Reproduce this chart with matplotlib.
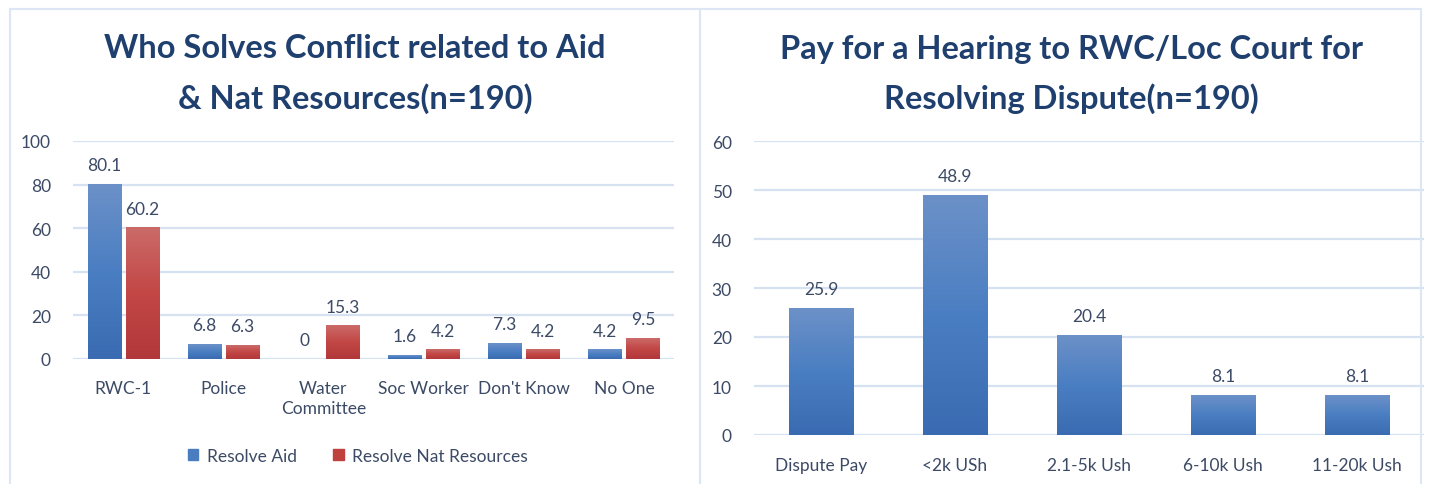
import matplotlib
matplotlib.use("Agg")
import matplotlib.pyplot as plt
import numpy as np
from matplotlib.colors import LinearSegmentedColormap
from matplotlib.patches import Rectangle

plt.rcParams['font.family'] = ['Lato', 'DejaVu Sans']

# ---- data ----
left_title = "Who Solves Conflict related to Aid\n& Nat Resources(n=190)"
left_categories = ["RWC-1", "Police", "Water\nCommittee", "Soc Worker", "Don't Know", "No One"]
resolve_aid = [80.1, 6.8, 0, 1.6, 7.3, 4.2]
resolve_nat = [60.2, 6.3, 15.3, 4.2, 4.2, 9.5]
left_series = ["Resolve Aid", "Resolve Nat Resources"]
left_yticks = [0, 20, 40, 60, 80, 100]

right_title = "Pay for a Hearing to RWC/Loc Court for\nResolving Dispute(n=190)"
right_categories = ["Dispute Pay", "<2k USh", "2.1-5k Ush", "6-10k Ush", "11-20k Ush"]
pay_values = [25.9, 48.9, 20.4, 8.1, 8.1]
right_yticks = [0, 10, 20, 30, 40, 50, 60]

# ---- styles ----
BLUE = "#4A7CC0"
RED = "#C0403E"
blue_cmap = LinearSegmentedColormap.from_list("b", ["#3A6BB2", "#4A7EC2", "#6C91C8"])
red_cmap = LinearSegmentedColormap.from_list("r", ["#B2373A", "#C24745", "#CB6B69"])
TITLE_C = "#1F3F6E"
TEXT_C = "#3C4A66"
GRID_C = "#D6E2F2"
BORDER_C = "#DCE6F4"
FS = 12.5
TFS = 23.5

W, H = 1442, 485
fig = plt.figure(figsize=(W / 100, H / 100), dpi=100)

# panel borders
fig.patches.append(Rectangle((10 / W, -0.1), (700 - 10) / W, 1.1 - 10 / H, transform=fig.transFigure,
                             fill=False, edgecolor=BORDER_C, linewidth=1.5))
fig.patches.append(Rectangle((700 / W, -0.1), 0.5, 1.1 - 10 / H, transform=fig.transFigure,
                             fill=False, edgecolor=BORDER_C, linewidth=1.5))


def gradient_bars(ax, bars, cmap):
    grad = np.linspace(0, 1, 256).reshape(-1, 1)
    for b in bars:
        x, y = b.get_x(), b.get_y()
        w, h = b.get_width(), b.get_height()
        if h <= 0:
            continue
        ax.imshow(grad, extent=[x, x + w, y, y + h], origin="lower", aspect="auto",
                  cmap=cmap, zorder=3)
        b.set_facecolor("none")


def style_axes(ax, yticks, pad_y):
    for s in ax.spines.values():
        s.set_visible(False)
    ax.set_yticks(yticks)
    ax.yaxis.grid(True, color=GRID_C, linewidth=1.6)
    ax.set_axisbelow(True)
    ax.tick_params(axis="both", length=0, labelsize=FS, labelcolor=TEXT_C)
    ax.tick_params(axis="y", pad=pad_y)


# ---- titles (centred on each panel) ----
fig.text(355 / W, 1 - 74 / H, left_title, ha="center", va="center", fontsize=TFS,
         fontweight="bold", color=TITLE_C, linespacing=1.75)
fig.text(1071 / W, 1 - 74 / H, right_title, ha="center", va="center", fontsize=TFS,
         fontweight="bold", color=TITLE_C, linespacing=1.75)

# ---- left chart ----
axL = fig.add_axes([73 / W, 1 - 360 / H, (674 - 73) / W, (360 - 142) / H])
x = np.arange(len(left_categories))
bw = 0.33
off = 0.19
b1 = axL.bar(x - off, resolve_aid, bw, color=BLUE, label=left_series[0], zorder=2)
b2 = axL.bar(x + off, resolve_nat, bw, color=RED, label=left_series[1], zorder=2)
gradient_bars(axL, b1, blue_cmap)
gradient_bars(axL, b2, red_cmap)
for bars, vals in ((b1, resolve_aid), (b2, resolve_nat)):
    for b, v in zip(bars, vals):
        axL.annotate(f"{v:g}", (b.get_x() + b.get_width() / 2, v), xytext=(0, 8),
                     textcoords="offset points", ha="center", va="bottom",
                     fontsize=FS, color=TEXT_C)
axL.set_xlim(-0.5, len(left_categories) - 0.5)
axL.set_ylim(0, 100)
axL.set_xticks(x)
axL.set_xticklabels(left_categories, linespacing=1.35)
style_axes(axL, left_yticks, 16)
axL.tick_params(axis="x", pad=15)
h1 = Rectangle((0, 0), 1, 1, color=BLUE)
h2 = Rectangle((0, 0), 1, 1, color=RED)
fig.legend([h1, h2], left_series, loc="center", bbox_to_anchor=(358 / W, 1 - 457 / H), ncol=2,
           frameon=False, fontsize=FS, labelcolor=TEXT_C, handlelength=0.6, handleheight=0.6,
           handletextpad=0.5, columnspacing=2.1)

# ---- right chart ----
axR = fig.add_axes([754 / W, 1 - 436 / H, (1424 - 754) / W, (436 - 142) / H])
xr = np.arange(len(right_categories))
b3 = axR.bar(xr, pay_values, 0.48, color=BLUE, zorder=2)
gradient_bars(axR, b3, blue_cmap)
for b, v in zip(b3, pay_values):
    axR.annotate(f"{v:g}", (b.get_x() + b.get_width() / 2, v), xytext=(0, 8),
                 textcoords="offset points", ha="center", va="bottom",
                 fontsize=FS, color=TEXT_C)
axR.set_xlim(-0.5, len(right_categories) - 0.5)
axR.set_ylim(0, 60)
axR.set_xticks(xr)
axR.set_xticklabels(right_categories)
style_axes(axR, right_yticks, 16)
axR.tick_params(axis="x", pad=16)

fig.savefig("out.png", dpi=100, facecolor="white")
